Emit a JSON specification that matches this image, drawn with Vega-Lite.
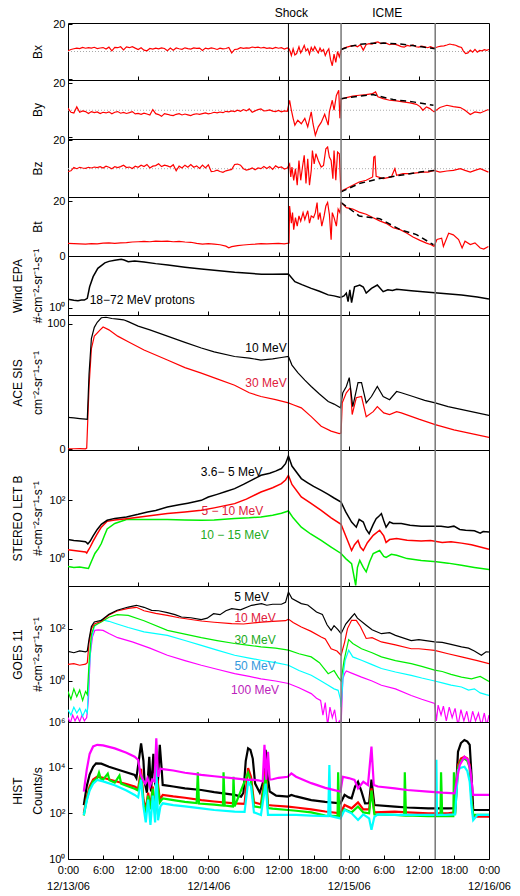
{
"$schema":"https://vega.github.io/schema/vega-lite/v6.json",
"padding":{"left":10,"top":3,"right":0,"bottom":0},
"spacing":0,
"bounds":"flush",
"resolve":{"scale":{"x":"independent","y":"independent","color":"independent"}},
"config":{
 "view":{"stroke":"#000","strokeWidth":1},
 "font":"Liberation Sans",
 "axis":{"grid":false,"domain":false,"tickSize":-4,"tickColor":"#000","labelColor":"#000","labelFontSize":11,"titleFontSize":12,"titleFontWeight":"normal","titleColor":"#000","labelFont":"Liberation Sans","titleFont":"Liberation Sans","labelFlush":false,"labelOverlap":false},
 "axisY":{"minExtent":22,"maxExtent":22,"titlePadding":2,"titleLineHeight":20,"labelPadding":7},
 "axisX":{"labelPadding":9,"labelLineHeight":16}
},
"datasets":{
"evl":[{"t":38.2,"txt":"Shock"},{"t":54.6,"txt":"ICME"}],
"ev":[{"t":37.7,"k":"Shock"},{"t":46.7,"k":"ICME"},{"t":62.8,"k":"ICME"}],
"zero":[{"v":0}],
"bx":[{"t":0,"v":0.5},{"t":0.5,"v":1.5},{"t":1,"v":2},{"t":1.5,"v":2.5},{"t":2,"v":2.2},{"t":2.5,"v":3},{"t":3,"v":2.4},{"t":3.5,"v":2.8},{"t":4,"v":2.5},{"t":4.5,"v":3.1},{"t":5,"v":2.2},{"t":5.5,"v":2.6},{"t":6,"v":2.9},{"t":6.5,"v":1.8},{"t":7,"v":3.2},{"t":7.5,"v":0.5},{"t":8,"v":3},{"t":8.5,"v":2.8},{"t":9,"v":3.5},{"t":9.5,"v":1.2},{"t":10,"v":3.4},{"t":10.5,"v":2.8},{"t":11,"v":3.6},{"t":11.5,"v":2.5},{"t":12,"v":1.5},{"t":12.5,"v":2.8},{"t":13,"v":1},{"t":13.5,"v":0.5},{"t":14,"v":2.2},{"t":14.5,"v":1.8},{"t":15,"v":2.5},{"t":15.5,"v":1.9},{"t":16,"v":2.6},{"t":16.5,"v":2.2},{"t":17,"v":0.6},{"t":17.5,"v":2.5},{"t":18,"v":1},{"t":18.5,"v":2.6},{"t":19,"v":2},{"t":19.5,"v":1.6},{"t":20,"v":2.7},{"t":20.5,"v":2.1},{"t":21,"v":1.8},{"t":21.5,"v":2.6},{"t":22,"v":2.3},{"t":22.5,"v":2.5},{"t":23,"v":0.8},{"t":23.5,"v":2.5},{"t":24,"v":2},{"t":24.5,"v":2.6},{"t":25,"v":2.2},{"t":25.5,"v":1.5},{"t":26,"v":2.5},{"t":26.5,"v":2},{"t":27,"v":2.2},{"t":27.5,"v":3},{"t":28,"v":-1},{"t":28.5,"v":1.5},{"t":29,"v":1.8},{"t":29.5,"v":2.8},{"t":30,"v":2.3},{"t":30.5,"v":2.6},{"t":31,"v":2.5},{"t":31.5,"v":3.3},{"t":32,"v":2.8},{"t":32.5,"v":3.2},{"t":33,"v":2.6},{"t":33.5,"v":3},{"t":34,"v":2.3},{"t":34.5,"v":2.7},{"t":35,"v":2.2},{"t":35.5,"v":3},{"t":36,"v":2.4},{"t":36.5,"v":2.8},{"t":37,"v":1.8},{"t":37.5,"v":2.6},{"t":37.8,"v":2},{"t":38,"v":0},{"t":38.2,"v":-3},{"t":38.5,"v":2},{"t":38.8,"v":-2.5},{"t":39.1,"v":-1.5},{"t":39.5,"v":3.5},{"t":39.8,"v":-1},{"t":40.1,"v":1.5},{"t":40.4,"v":4.5},{"t":40.7,"v":0.5},{"t":41,"v":2},{"t":41.3,"v":-2},{"t":41.6,"v":3},{"t":41.9,"v":0.5},{"t":42.2,"v":3.5},{"t":42.5,"v":1},{"t":42.8,"v":-1},{"t":43.1,"v":2.5},{"t":43.4,"v":0},{"t":43.7,"v":1.5},{"t":44,"v":-3},{"t":44.3,"v":0},{"t":44.6,"v":2},{"t":44.9,"v":-6},{"t":45.2,"v":-10.5},{"t":45.5,"v":-2},{"t":45.8,"v":-8},{"t":46.1,"v":0},{"t":46.4,"v":-4},{"t":46.7,"v":1},{"t":46.8,"v":1.5},{"t":47.2,"v":2.5},{"t":47.7,"v":3.2},{"t":48.3,"v":4},{"t":49,"v":4.5},{"t":49.5,"v":3.5},{"t":50,"v":5},{"t":50.5,"v":1},{"t":51,"v":5.2},{"t":51.5,"v":5.8},{"t":52,"v":5.5},{"t":52.5,"v":6.5},{"t":53,"v":7},{"t":53.5,"v":5.8},{"t":54,"v":6.2},{"t":54.5,"v":6},{"t":55,"v":5},{"t":55.5,"v":5.5},{"t":56,"v":5.2},{"t":56.5,"v":4.5},{"t":57,"v":3.6},{"t":57.5,"v":3.2},{"t":58,"v":4.5},{"t":58.5,"v":4},{"t":59,"v":4.8},{"t":59.5,"v":3.5},{"t":60,"v":3.2},{"t":60.5,"v":4},{"t":61,"v":3.5},{"t":61.5,"v":2.8},{"t":62,"v":3.6},{"t":62.5,"v":2.5},{"t":62.8,"v":2.8},{"t":63.3,"v":3.5},{"t":63.8,"v":4},{"t":64.3,"v":4.2},{"t":64.8,"v":4.8},{"t":65.3,"v":5.5},{"t":65.8,"v":5},{"t":66.3,"v":4.6},{"t":66.8,"v":3.6},{"t":67.3,"v":3},{"t":67.6,"v":0.5},{"t":68,"v":-1.5},{"t":68.4,"v":-1},{"t":68.8,"v":1},{"t":69.2,"v":-0.5},{"t":69.6,"v":1.5},{"t":70,"v":-0.5},{"t":70.4,"v":0.8},{"t":70.8,"v":0.5},{"t":71.2,"v":1.3},{"t":71.6,"v":0.8},{"t":72,"v":1.5}],
"bxf":[{"t":46.7,"v":1.5},{"t":48,"v":3.5},{"t":50,"v":5.3},{"t":52,"v":6},{"t":54,"v":6.2},{"t":56,"v":5.8},{"t":58,"v":5},{"t":60,"v":3.8},{"t":62,"v":2.5},{"t":62.8,"v":2}],
"by":[{"t":0,"v":1.5},{"t":0.5,"v":-1.5},{"t":1,"v":-2},{"t":1.5,"v":2.5},{"t":2,"v":-1.5},{"t":2.5,"v":-0.5},{"t":3,"v":-1},{"t":3.5,"v":-2.5},{"t":4,"v":-1},{"t":4.5,"v":-1.8},{"t":5,"v":-1.2},{"t":5.5,"v":-2.5},{"t":6,"v":-1.5},{"t":6.5,"v":-2},{"t":7,"v":-1.2},{"t":7.5,"v":-2.6},{"t":8,"v":-1.5},{"t":8.5,"v":-1},{"t":9,"v":-2.2},{"t":9.5,"v":-1.6},{"t":10,"v":-2.4},{"t":10.5,"v":-1.8},{"t":11,"v":-1},{"t":11.5,"v":-2.7},{"t":12,"v":-2.4},{"t":12.5,"v":-3},{"t":13,"v":-2.1},{"t":13.5,"v":-2.8},{"t":14,"v":-3.5},{"t":14.5,"v":0.5},{"t":15,"v":-2.5},{"t":15.5,"v":-3.2},{"t":16,"v":-4.5},{"t":16.5,"v":-2.5},{"t":17,"v":-3},{"t":17.5,"v":-3.6},{"t":18,"v":-4},{"t":18.5,"v":-3},{"t":19,"v":-2.5},{"t":19.5,"v":-3.5},{"t":20,"v":-2.8},{"t":20.5,"v":-3.4},{"t":21,"v":-4},{"t":21.5,"v":-3},{"t":22,"v":-2.6},{"t":22.5,"v":-3},{"t":23,"v":-2.5},{"t":23.5,"v":-2},{"t":24,"v":-2.7},{"t":24.5,"v":-2.2},{"t":25,"v":-1.5},{"t":25.5,"v":-2},{"t":26,"v":-1.3},{"t":26.5,"v":-1.8},{"t":27,"v":-0.8},{"t":27.5,"v":-1.2},{"t":28,"v":-0.5},{"t":28.5,"v":-1},{"t":29,"v":0},{"t":29.5,"v":-0.8},{"t":30,"v":0.5},{"t":30.5,"v":-0.5},{"t":31,"v":1},{"t":31.5,"v":-1.5},{"t":32,"v":-0.5},{"t":32.5,"v":0.5},{"t":33,"v":1},{"t":33.5,"v":-0.5},{"t":34,"v":-0.3},{"t":34.5,"v":0.3},{"t":35,"v":-0.6},{"t":35.5,"v":-1},{"t":36,"v":-0.2},{"t":36.5,"v":-1.2},{"t":37,"v":-0.5},{"t":37.5,"v":-0.8},{"t":37.9,"v":7.4},{"t":38.2,"v":0},{"t":38.5,"v":-6},{"t":38.8,"v":-11},{"t":39.3,"v":-7.4},{"t":39.9,"v":-10},{"t":40.5,"v":-6},{"t":41,"v":-12.3},{"t":41.6,"v":-1.2},{"t":41.9,"v":-10},{"t":42.3,"v":-18.5},{"t":42.8,"v":-12.3},{"t":43.3,"v":-9},{"t":43.9,"v":-3},{"t":44.5,"v":-11},{"t":44.7,"v":-1.2},{"t":45.2,"v":7.4},{"t":45.5,"v":0},{"t":45.9,"v":11},{"t":46.3,"v":14.8},{"t":46.5,"v":-6},{"t":46.7,"v":8.6},{"t":47,"v":8.6},{"t":47.6,"v":9.4},{"t":48.7,"v":10.4},{"t":49.8,"v":11.1},{"t":51,"v":11.6},{"t":52.1,"v":12.3},{"t":52.6,"v":13.6},{"t":53,"v":9.9},{"t":53.9,"v":8.6},{"t":55,"v":7.4},{"t":56.2,"v":6.9},{"t":57.3,"v":6.2},{"t":58.5,"v":5.4},{"t":59.6,"v":4.4},{"t":60.2,"v":2.7},{"t":60.7,"v":0},{"t":61.3,"v":2.5},{"t":61.9,"v":1.2},{"t":62.6,"v":-1.2},{"t":63.6,"v":2},{"t":64.8,"v":3.7},{"t":65.9,"v":2.7},{"t":67.1,"v":2},{"t":67.9,"v":0},{"t":68.8,"v":-3.2},{"t":69.6,"v":-1.2},{"t":70.5,"v":-2},{"t":71.9,"v":0.5}],
"byf":[{"t":46.7,"v":8.6},{"t":49.8,"v":10.4},{"t":52.1,"v":11.6},{"t":55.6,"v":7.9},{"t":59,"v":6.2},{"t":62.5,"v":3.7}],
"bz":[{"t":0,"v":-2},{"t":0.5,"v":-1.5},{"t":1,"v":0.8},{"t":1.5,"v":0},{"t":2,"v":1},{"t":2.5,"v":0.5},{"t":3,"v":0.2},{"t":3.5,"v":1},{"t":4,"v":0.5},{"t":4.5,"v":1.2},{"t":5,"v":0.8},{"t":5.5,"v":1.5},{"t":6,"v":0.5},{"t":6.5,"v":1.8},{"t":7,"v":1},{"t":7.5,"v":0},{"t":8,"v":1.5},{"t":8.5,"v":0.8},{"t":9,"v":1.5},{"t":9.5,"v":2.5},{"t":10,"v":0.8},{"t":10.5,"v":1.2},{"t":11,"v":0.2},{"t":11.5,"v":1.8},{"t":12,"v":1},{"t":12.5,"v":2.5},{"t":13,"v":1.5},{"t":13.5,"v":3},{"t":14,"v":0.5},{"t":14.5,"v":1.8},{"t":15,"v":2.2},{"t":15.5,"v":3.5},{"t":16,"v":1.5},{"t":16.5,"v":2.5},{"t":17,"v":2},{"t":17.5,"v":1.2},{"t":18,"v":2.8},{"t":18.5,"v":-1.5},{"t":19,"v":1.8},{"t":19.5,"v":0.5},{"t":20,"v":2.5},{"t":20.5,"v":1},{"t":21,"v":3},{"t":21.5,"v":1},{"t":22,"v":2},{"t":22.5,"v":0.2},{"t":23,"v":2.5},{"t":23.5,"v":0.5},{"t":24,"v":2.8},{"t":24.5,"v":-2},{"t":25,"v":-1.8},{"t":25.5,"v":-1},{"t":26,"v":-2},{"t":26.5,"v":-2.5},{"t":27,"v":-1.5},{"t":27.5,"v":-1},{"t":28,"v":-0.5},{"t":28.5,"v":3},{"t":29,"v":3.3},{"t":29.5,"v":2.5},{"t":30,"v":0},{"t":30.5,"v":-1},{"t":31,"v":-0.5},{"t":31.5,"v":0.5},{"t":32,"v":-0.8},{"t":32.5,"v":0.5},{"t":33,"v":0},{"t":33.5,"v":1.5},{"t":34,"v":0.2},{"t":34.5,"v":1.5},{"t":35,"v":-0.5},{"t":35.5,"v":2},{"t":36,"v":0.8},{"t":36.5,"v":1.2},{"t":37,"v":-0.2},{"t":37.5,"v":0.5},{"t":37.9,"v":3.4},{"t":38.1,"v":-5.8},{"t":38.3,"v":1.2},{"t":38.6,"v":-8.2},{"t":38.9,"v":0},{"t":39.2,"v":-11.7},{"t":39.5,"v":5.8},{"t":39.8,"v":-8.2},{"t":40.1,"v":1.2},{"t":40.4,"v":9.4},{"t":40.7,"v":-10.5},{"t":41,"v":7},{"t":41.3,"v":-11.7},{"t":41.6,"v":-1.2},{"t":41.8,"v":12.9},{"t":42.1,"v":3.4},{"t":42.4,"v":10.6},{"t":42.8,"v":5.8},{"t":43.3,"v":1.2},{"t":43.7,"v":2.3},{"t":44.1,"v":14.1},{"t":44.4,"v":15.3},{"t":44.7,"v":8.2},{"t":45,"v":5.8},{"t":45.3,"v":-7},{"t":45.5,"v":12.9},{"t":45.8,"v":-8.2},{"t":46.1,"v":11.8},{"t":46.4,"v":10.6},{"t":46.6,"v":-9.4},{"t":46.7,"v":-16.4},{"t":47,"v":-15.2},{"t":47.6,"v":-14},{"t":48.7,"v":-11.7},{"t":49.8,"v":-9.4},{"t":51,"v":-8.2},{"t":52.1,"v":-5.8},{"t":52.3,"v":8.2},{"t":52.5,"v":8.7},{"t":52.7,"v":-5.3},{"t":53.9,"v":-7},{"t":55.3,"v":-5.8},{"t":55.9,"v":0},{"t":56.2,"v":-4.7},{"t":57.3,"v":-3.5},{"t":58.5,"v":-3.5},{"t":59.6,"v":-3},{"t":60.7,"v":-2.4},{"t":61.6,"v":-2.4},{"t":62.6,"v":-1.2},{"t":63.6,"v":-2.4},{"t":64.8,"v":-1.6},{"t":65.9,"v":-1.2},{"t":67.1,"v":0},{"t":67.9,"v":-1.2},{"t":68.8,"v":-2.4},{"t":69.6,"v":-1.2},{"t":70.5,"v":0},{"t":71.9,"v":-2.4}],
"bzf":[{"t":46.7,"v":-16.4},{"t":49.8,"v":-10.5},{"t":53.3,"v":-7},{"t":56.8,"v":-4.7},{"t":60.2,"v":-2.4},{"t":62.6,"v":-1.2}],
"bt":[{"t":0,"v":4.6},{"t":1,"v":4.5},{"t":2,"v":4.4},{"t":3,"v":4.3},{"t":4,"v":4.5},{"t":5,"v":4.4},{"t":6,"v":4.7},{"t":7,"v":4.8},{"t":8,"v":4.6},{"t":9,"v":4.8},{"t":10,"v":4.9},{"t":11,"v":5.1},{"t":12,"v":5.2},{"t":13,"v":5.3},{"t":14,"v":5.2},{"t":15,"v":5.4},{"t":16,"v":5.3},{"t":17,"v":5.4},{"t":18,"v":5.2},{"t":19,"v":5.3},{"t":20,"v":5.1},{"t":21,"v":5},{"t":22,"v":4.6},{"t":23,"v":4.3},{"t":24,"v":4.5},{"t":25,"v":4.3},{"t":26,"v":4.1},{"t":27,"v":3.6},{"t":27.5,"v":3},{"t":28,"v":3.4},{"t":28.5,"v":3.6},{"t":29,"v":3.8},{"t":30,"v":4},{"t":31,"v":4.2},{"t":32,"v":4.3},{"t":33,"v":4.5},{"t":34,"v":4.4},{"t":35,"v":4.5},{"t":36,"v":4.6},{"t":37,"v":4.4},{"t":37.8,"v":4.7},{"t":37.9,"v":18.2},{"t":38.2,"v":12},{"t":38.4,"v":15.8},{"t":38.6,"v":9.6},{"t":38.9,"v":14},{"t":39.2,"v":10.9},{"t":39.5,"v":14.6},{"t":39.8,"v":12.7},{"t":40.2,"v":15.8},{"t":40.5,"v":13.3},{"t":41,"v":16.5},{"t":41.3,"v":12},{"t":41.6,"v":14.6},{"t":42,"v":14},{"t":42.3,"v":15.8},{"t":42.6,"v":19.5},{"t":42.8,"v":13.3},{"t":43.1,"v":15.8},{"t":43.4,"v":10.9},{"t":43.8,"v":14.6},{"t":44.1,"v":18.2},{"t":44.4,"v":19.5},{"t":44.7,"v":15.2},{"t":45,"v":5.9},{"t":45.2,"v":15.8},{"t":45.5,"v":14},{"t":45.9,"v":10.9},{"t":46.2,"v":17.1},{"t":46.5,"v":15.8},{"t":46.7,"v":19.5},{"t":47,"v":18.9},{"t":47.6,"v":17.6},{"t":48.7,"v":17.1},{"t":49.8,"v":16},{"t":51,"v":15.2},{"t":52.1,"v":14},{"t":53.3,"v":12.8},{"t":54.4,"v":11.9},{"t":55.6,"v":10.3},{"t":56.8,"v":9.6},{"t":57.9,"v":8.4},{"t":59,"v":6.9},{"t":60.2,"v":5.7},{"t":61.3,"v":4.7},{"t":62.1,"v":4.1},{"t":62.6,"v":3.5},{"t":63.1,"v":6},{"t":63.9,"v":6.5},{"t":64.2,"v":3.5},{"t":65.1,"v":8.3},{"t":65.9,"v":7.7},{"t":66.8,"v":6},{"t":67.4,"v":2.9},{"t":67.9,"v":5.4},{"t":68.8,"v":4.2},{"t":69.6,"v":4.8},{"t":70.5,"v":2.9},{"t":71.1,"v":2.5},{"t":71.9,"v":3.5}],
"btf":[{"t":46.7,"v":19.5},{"t":49.8,"v":14.6},{"t":53.3,"v":13.6},{"t":56.8,"v":9.6},{"t":59.6,"v":7.8},{"t":62.5,"v":4.1}],
"epa":[{"t":0,"v":1.91},{"t":0.5,"v":1.85},{"t":1,"v":1.78},{"t":1.7,"v":1.72},{"t":2.3,"v":1.8},{"t":2.8,"v":1.81},{"t":3.3,"v":2.07},{"t":3.7,"v":5.1},{"t":4.3,"v":11.2},{"t":5.1,"v":21.5},{"t":6.3,"v":33},{"t":7,"v":37},{"t":8,"v":40.6},{"t":9.1,"v":43.3},{"t":9.6,"v":41},{"t":10.3,"v":36},{"t":11.4,"v":38},{"t":13,"v":35},{"t":15,"v":31},{"t":17.1,"v":27.9},{"t":20,"v":23.5},{"t":22.8,"v":20.4},{"t":25,"v":18.5},{"t":28.5,"v":15.8},{"t":31,"v":14.5},{"t":33.1,"v":13.5},{"t":35,"v":13.6},{"t":37.7,"v":13.8},{"t":38.8,"v":7.6},{"t":40,"v":6},{"t":41.6,"v":4.5},{"t":43,"v":3.6},{"t":44.5,"v":2.7},{"t":45.5,"v":2.5},{"t":46.6,"v":2.2},{"t":47.2,"v":2.5},{"t":47.6,"v":3.1},{"t":47.9,"v":1.6},{"t":48.2,"v":4},{"t":48.5,"v":1.47},{"t":49,"v":5.1},{"t":49.9,"v":5.85},{"t":50.5,"v":5},{"t":51,"v":3.1},{"t":51.9,"v":4.5},{"t":52.9,"v":5.85},{"t":53.9,"v":3.47},{"t":54.7,"v":4},{"t":55.5,"v":3.8},{"t":56.2,"v":4.2},{"t":58.7,"v":3.75},{"t":62.7,"v":3.2},{"t":67.3,"v":2.7},{"t":70,"v":2.3},{"t":72,"v":1.95}],
"epal":[{"t":3.7,"v":1.8,"txt":"18−72 MeV protons"}],
"ace":[{"s":"30","t":0,"v":0.5},{"s":"30","t":1,"v":0.5},{"s":"30","t":2,"v":0.6},{"s":"30","t":3,"v":0.4},{"s":"30","t":3.2,"v":1},{"s":"30","t":3.6,"v":50},{"s":"30","t":4,"v":80},{"s":"30","t":4.5,"v":90},{"s":"30","t":5.5,"v":95},{"s":"30","t":6,"v":97.3},{"s":"30","t":7,"v":95},{"s":"30","t":8.5,"v":90},{"s":"30","t":10.3,"v":85.6},{"s":"30","t":13,"v":79},{"s":"30","t":17,"v":71},{"s":"30","t":20,"v":65},{"s":"30","t":22.8,"v":60.6},{"s":"30","t":25.5,"v":56},{"s":"30","t":28.5,"v":51},{"s":"30","t":31,"v":45},{"s":"30","t":33,"v":42},{"s":"30","t":35.5,"v":39.5},{"s":"30","t":37.7,"v":37},{"s":"30","t":38.5,"v":35.5},{"s":"30","t":39.9,"v":33},{"s":"30","t":41.6,"v":26},{"s":"30","t":43.3,"v":18.4},{"s":"30","t":45,"v":14.5},{"s":"30","t":46.4,"v":12.6},{"s":"30","t":46.7,"v":13},{"s":"30","t":46.9,"v":37},{"s":"30","t":47.6,"v":45},{"s":"30","t":48.3,"v":49},{"s":"30","t":48.6,"v":27.7},{"s":"30","t":49.3,"v":41},{"s":"30","t":50.2,"v":42},{"s":"30","t":51,"v":26},{"s":"30","t":52.2,"v":30},{"s":"30","t":52.9,"v":34},{"s":"30","t":54,"v":29},{"s":"30","t":55,"v":27.7},{"s":"30","t":56.2,"v":30},{"s":"30","t":57,"v":29},{"s":"30","t":60,"v":24},{"s":"30","t":62.8,"v":19.7},{"s":"30","t":66,"v":15.5},{"s":"30","t":69,"v":12.5},{"s":"30","t":72,"v":9.5},
{"s":"10","t":0,"v":25.5},{"s":"10","t":1,"v":25},{"s":"10","t":2,"v":24.5},{"s":"10","t":3,"v":24},{"s":"10","t":3.3,"v":23.8},{"s":"10","t":3.6,"v":60},{"s":"10","t":4,"v":88},{"s":"10","t":4.5,"v":97},{"s":"10","t":5,"v":101},{"s":"10","t":5.7,"v":104.6},{"s":"10","t":6.5,"v":105},{"s":"10","t":7.5,"v":104},{"s":"10","t":8.5,"v":103.5},{"s":"10","t":9.5,"v":103},{"s":"10","t":10.3,"v":101.5},{"s":"10","t":12,"v":98},{"s":"10","t":14,"v":95},{"s":"10","t":17,"v":90},{"s":"10","t":20,"v":85},{"s":"10","t":22.8,"v":80.6},{"s":"10","t":25,"v":77.5},{"s":"10","t":28.5,"v":73.8},{"s":"10","t":31,"v":72.5},{"s":"10","t":33,"v":71},{"s":"10","t":35,"v":72},{"s":"10","t":36.5,"v":73},{"s":"10","t":37.7,"v":73.8},{"s":"10","t":38.3,"v":67},{"s":"10","t":39.3,"v":61},{"s":"10","t":40.5,"v":55},{"s":"10","t":41.6,"v":50},{"s":"10","t":43,"v":44},{"s":"10","t":44.5,"v":38},{"s":"10","t":45.5,"v":36},{"s":"10","t":46.6,"v":33},{"s":"10","t":47,"v":45},{"s":"10","t":47.6,"v":50},{"s":"10","t":48.1,"v":57},{"s":"10","t":48.7,"v":34},{"s":"10","t":49.6,"v":53},{"s":"10","t":50.2,"v":53},{"s":"10","t":51,"v":37},{"s":"10","t":51.9,"v":42},{"s":"10","t":52.9,"v":50},{"s":"10","t":53.9,"v":42},{"s":"10","t":55,"v":39.5},{"s":"10","t":56.2,"v":46},{"s":"10","t":57,"v":45},{"s":"10","t":59,"v":42},{"s":"10","t":61,"v":39},{"s":"10","t":62.8,"v":37},{"s":"10","t":65,"v":34},{"s":"10","t":67,"v":32},{"s":"10","t":69,"v":30},{"s":"10","t":72,"v":27}],
"acel":[{"t":37.4,"v":80.3,"s":"10","txt":"10 MeV"},{"t":37.4,"v":52.5,"s":"30","txt":"30 MeV"}],
"let":[{"s":"c","t":0,"v":0.54},{"s":"c","t":1,"v":0.5},{"s":"c","t":2,"v":0.52},{"s":"c","t":3,"v":0.48},{"s":"c","t":3.5,"v":0.46},{"s":"c","t":4,"v":0.8},{"s":"c","t":4.6,"v":1.5},{"s":"c","t":5.2,"v":2.2},{"s":"c","t":5.7,"v":3.3},{"s":"c","t":6.2,"v":6},{"s":"c","t":6.7,"v":10.4},{"s":"c","t":8,"v":16},{"s":"c","t":10,"v":21.8},{"s":"c","t":13,"v":22},{"s":"c","t":17,"v":21.8},{"s":"c","t":20,"v":21},{"s":"c","t":22.8,"v":20.6},{"s":"c","t":25,"v":21},{"s":"c","t":28.5,"v":24},{"s":"c","t":31,"v":25},{"s":"c","t":33,"v":27},{"s":"c","t":35,"v":31},{"s":"c","t":36.5,"v":36},{"s":"c","t":37.7,"v":43},{"s":"c","t":38.5,"v":25},{"s":"c","t":39.9,"v":12},{"s":"c","t":41.5,"v":7},{"s":"c","t":43.3,"v":4.2},{"s":"c","t":45,"v":2.5},{"s":"c","t":46.7,"v":1.5},{"s":"c","t":47.5,"v":1},{"s":"c","t":48.5,"v":0.67},{"s":"c","t":49.2,"v":0.12},{"s":"c","t":49.5,"v":0.5},{"s":"c","t":49.9,"v":0.87},{"s":"c","t":50.5,"v":0.5},{"s":"c","t":51,"v":0.35},{"s":"c","t":51.6,"v":0.8},{"s":"c","t":52.2,"v":1.5},{"s":"c","t":53.3,"v":1.9},{"s":"c","t":54,"v":1.2},{"s":"c","t":54.4,"v":1.1},{"s":"c","t":55.3,"v":1.4},{"s":"c","t":56.2,"v":1.3},{"s":"c","t":58,"v":1},{"s":"c","t":60.4,"v":0.87},{"s":"c","t":63,"v":0.78},{"s":"c","t":65,"v":0.7},{"s":"c","t":67.3,"v":0.59},{"s":"c","t":69.5,"v":0.5},{"s":"c","t":72,"v":0.42},
{"s":"b","t":0,"v":2},{"s":"b","t":1,"v":1.9},{"s":"b","t":2,"v":1.8},{"s":"b","t":3,"v":1.7},{"s":"b","t":3.2,"v":1.56},{"s":"b","t":3.8,"v":2.5},{"s":"b","t":4.3,"v":4},{"s":"b","t":5,"v":7},{"s":"b","t":5.7,"v":12},{"s":"b","t":6.7,"v":19},{"s":"b","t":8,"v":21},{"s":"b","t":10,"v":23.5},{"s":"b","t":13,"v":28},{"s":"b","t":17,"v":35},{"s":"b","t":20,"v":40},{"s":"b","t":22.8,"v":45.5},{"s":"b","t":25,"v":55},{"s":"b","t":28.5,"v":77},{"s":"b","t":30.5,"v":110},{"s":"b","t":33,"v":192},{"s":"b","t":35,"v":270},{"s":"b","t":36.5,"v":375},{"s":"b","t":37.2,"v":500},{"s":"b","t":37.7,"v":720},{"s":"b","t":38.3,"v":350},{"s":"b","t":39.9,"v":130},{"s":"b","t":41.5,"v":80},{"s":"b","t":43.3,"v":45},{"s":"b","t":45,"v":25},{"s":"b","t":46.7,"v":15},{"s":"b","t":47.5,"v":6},{"s":"b","t":48.5,"v":1.9},{"s":"b","t":49,"v":3},{"s":"b","t":49.6,"v":4.2},{"s":"b","t":50,"v":2.5},{"s":"b","t":50.5,"v":1.9},{"s":"b","t":51.2,"v":3.5},{"s":"b","t":52.2,"v":6.3},{"s":"b","t":53.3,"v":9.4},{"s":"b","t":54,"v":6},{"s":"b","t":54.4,"v":3.6},{"s":"b","t":55,"v":4.5},{"s":"b","t":56.2,"v":4.9},{"s":"b","t":58,"v":4.3},{"s":"b","t":60.4,"v":4},{"s":"b","t":62,"v":4.2},{"s":"b","t":64,"v":3.6},{"s":"b","t":65.5,"v":3.8},{"s":"b","t":67.3,"v":3.4},{"s":"b","t":69,"v":3},{"s":"b","t":70.5,"v":2.5},{"s":"b","t":72,"v":2.1},
{"s":"a","t":0,"v":4.5},{"s":"a","t":1,"v":4.2},{"s":"a","t":2,"v":4},{"s":"a","t":3,"v":3.8},{"s":"a","t":3.4,"v":3.2},{"s":"a","t":3.8,"v":4},{"s":"a","t":4.3,"v":6},{"s":"a","t":5,"v":10},{"s":"a","t":5.7,"v":15},{"s":"a","t":6.7,"v":20.6},{"s":"a","t":8,"v":24},{"s":"a","t":10,"v":26.8},{"s":"a","t":12,"v":33},{"s":"a","t":13.6,"v":40},{"s":"a","t":15,"v":45},{"s":"a","t":17,"v":59},{"s":"a","t":19,"v":70},{"s":"a","t":20.5,"v":80},{"s":"a","t":22.8,"v":100},{"s":"a","t":24,"v":130},{"s":"a","t":25.5,"v":160},{"s":"a","t":27,"v":200},{"s":"a","t":28.5,"v":251},{"s":"a","t":30,"v":350},{"s":"a","t":31.5,"v":500},{"s":"a","t":33,"v":720},{"s":"a","t":34.5,"v":850},{"s":"a","t":35.5,"v":1000},{"s":"a","t":36.5,"v":1230},{"s":"a","t":37.2,"v":1800},{"s":"a","t":37.7,"v":3300},{"s":"a","t":38.3,"v":1500},{"s":"a","t":39.9,"v":557},{"s":"a","t":41,"v":400},{"s":"a","t":42,"v":300},{"s":"a","t":43.3,"v":220},{"s":"a","t":44.5,"v":160},{"s":"a","t":45.5,"v":120},{"s":"a","t":46.7,"v":87},{"s":"a","t":47.5,"v":40},{"s":"a","t":48.5,"v":18},{"s":"a","t":49.3,"v":12},{"s":"a","t":49.8,"v":22},{"s":"a","t":50.5,"v":18},{"s":"a","t":51,"v":10},{"s":"a","t":51.5,"v":7.2},{"s":"a","t":52.2,"v":15},{"s":"a","t":52.7,"v":23.5},{"s":"a","t":53.3,"v":30},{"s":"a","t":53.6,"v":35},{"s":"a","t":54,"v":20},{"s":"a","t":54.4,"v":12},{"s":"a","t":55,"v":18},{"s":"a","t":55.6,"v":16},{"s":"a","t":57,"v":15.9},{"s":"a","t":58.5,"v":14},{"s":"a","t":60.4,"v":12.8},{"s":"a","t":62,"v":13},{"s":"a","t":63.8,"v":12.8},{"s":"a","t":65,"v":12},{"s":"a","t":66,"v":13},{"s":"a","t":67,"v":10},{"s":"a","t":68,"v":9.4},{"s":"a","t":69.5,"v":9},{"s":"a","t":70.5,"v":7.5},{"s":"a","t":71,"v":8.5},{"s":"a","t":72,"v":8.2}],
"letl":[{"t":28,"v":912,"s":"a","txt":"3.6− 5 MeV"},{"t":28.1,"v":42,"s":"b","txt":"5 − 10 MeV"},{"t":28.5,"v":6.3,"s":"c","txt":"10 − 15 MeV"}],
"goes":[{"s":"100","t":0,"v":0.04},{"s":"100","t":0.4,"v":0.025},{"s":"100","t":0.8,"v":0.05},{"s":"100","t":1.2,"v":0.03},{"s":"100","t":1.6,"v":0.045},{"s":"100","t":2,"v":0.028},{"s":"100","t":2.4,"v":0.05},{"s":"100","t":2.8,"v":0.03},{"s":"100","t":3.2,"v":0.04},{"s":"100","t":3.5,"v":0.2},{"s":"100","t":3.8,"v":10},{"s":"100","t":4.2,"v":50},{"s":"100","t":4.6,"v":86},{"s":"100","t":5.2,"v":90},{"s":"100","t":6,"v":85},{"s":"100","t":7,"v":65},{"s":"100","t":8.5,"v":45},{"s":"100","t":11,"v":31},{"s":"100","t":14,"v":18},{"s":"100","t":17,"v":9.6},{"s":"100","t":20,"v":6},{"s":"100","t":22.8,"v":4},{"s":"100","t":25.5,"v":2.8},{"s":"100","t":28.5,"v":1.9},{"s":"100","t":31,"v":1.5},{"s":"100","t":33,"v":1.2},{"s":"100","t":35.5,"v":1},{"s":"100","t":37.7,"v":0.8},{"s":"100","t":39.5,"v":0.55},{"s":"100","t":41.6,"v":0.33},{"s":"100","t":42.5,"v":0.22},{"s":"100","t":43.2,"v":0.18},{"s":"100","t":43.6,"v":0.05},{"s":"100","t":44,"v":0.15},{"s":"100","t":44.4,"v":0.02},{"s":"100","t":44.8,"v":0.1},{"s":"100","t":45.2,"v":0.04},{"s":"100","t":45.6,"v":0.08},{"s":"100","t":46,"v":0.02},{"s":"100","t":46.4,"v":0.03},{"s":"100","t":46.7,"v":0.02},{"s":"100","t":47,"v":1.2},{"s":"100","t":47.3,"v":1.9},{"s":"100","t":47.6,"v":2.4},{"s":"100","t":48.5,"v":2},{"s":"100","t":50.2,"v":1.4},{"s":"100","t":52,"v":1},{"s":"100","t":53.6,"v":0.69},{"s":"100","t":56,"v":0.5},{"s":"100","t":58.7,"v":0.28},{"s":"100","t":60.5,"v":0.2},{"s":"100","t":62.7,"v":0.14},{"s":"100","t":63,"v":0.03},{"s":"100","t":63.3,"v":0.12},{"s":"100","t":63.8,"v":0.05},{"s":"100","t":64.2,"v":0.11},{"s":"100","t":64.7,"v":0.03},{"s":"100","t":65.2,"v":0.1},{"s":"100","t":65.7,"v":0.04},{"s":"100","t":66.2,"v":0.09},{"s":"100","t":66.7,"v":0.02},{"s":"100","t":67.2,"v":0.08},{"s":"100","t":67.7,"v":0.03},{"s":"100","t":68.2,"v":0.07},{"s":"100","t":68.7,"v":0.02},{"s":"100","t":69.2,"v":0.07},{"s":"100","t":69.7,"v":0.03},{"s":"100","t":70.2,"v":0.06},{"s":"100","t":70.7,"v":0.02},{"s":"100","t":71.2,"v":0.06},{"s":"100","t":71.6,"v":0.02},{"s":"100","t":72,"v":0.05},
{"s":"50","t":0,"v":0.08},{"s":"50","t":0.5,"v":0.05},{"s":"50","t":1,"v":0.1},{"s":"50","t":1.5,"v":0.06},{"s":"50","t":2,"v":0.09},{"s":"50","t":2.5,"v":0.045},{"s":"50","t":3,"v":0.08},{"s":"50","t":3.3,"v":0.06},{"s":"50","t":3.6,"v":2},{"s":"50","t":4,"v":40},{"s":"50","t":4.5,"v":120},{"s":"50","t":5.7,"v":220},{"s":"50","t":7,"v":190},{"s":"50","t":8.4,"v":150},{"s":"50","t":10.3,"v":110},{"s":"50","t":13,"v":75},{"s":"50","t":17,"v":55},{"s":"50","t":20,"v":35},{"s":"50","t":22.8,"v":23},{"s":"50","t":25.5,"v":15},{"s":"50","t":28.5,"v":9.6},{"s":"50","t":31,"v":7.5},{"s":"50","t":33,"v":6.2},{"s":"50","t":35.5,"v":5},{"s":"50","t":37.7,"v":4},{"s":"50","t":39.5,"v":2.5},{"s":"50","t":41.6,"v":1.65},{"s":"50","t":43,"v":1.1},{"s":"50","t":44.5,"v":0.69},{"s":"50","t":45.5,"v":0.5},{"s":"50","t":46.2,"v":0.44},{"s":"50","t":46.6,"v":0.2},{"s":"50","t":46.7,"v":0.1},{"s":"50","t":47.1,"v":2},{"s":"50","t":47.4,"v":6.2},{"s":"50","t":48,"v":15},{"s":"50","t":48.7,"v":8.3},{"s":"50","t":50.2,"v":6.2},{"s":"50","t":52,"v":4.2},{"s":"50","t":53.6,"v":3},{"s":"50","t":56,"v":2.2},{"s":"50","t":58.7,"v":1.65},{"s":"50","t":60.5,"v":1.3},{"s":"50","t":62.7,"v":1},{"s":"50","t":64,"v":0.85},{"s":"50","t":65.5,"v":0.7},{"s":"50","t":67.3,"v":0.59},{"s":"50","t":68.5,"v":0.45},{"s":"50","t":69.5,"v":0.5},{"s":"50","t":70.5,"v":0.35},{"s":"50","t":71.5,"v":0.3},{"s":"50","t":72,"v":0.28},
{"s":"30","t":0,"v":0.4},{"s":"30","t":0.5,"v":0.2},{"s":"30","t":1,"v":0.5},{"s":"30","t":1.5,"v":0.25},{"s":"30","t":2,"v":0.45},{"s":"30","t":2.5,"v":0.18},{"s":"30","t":3,"v":0.4},{"s":"30","t":3.3,"v":0.3},{"s":"30","t":3.6,"v":5},{"s":"30","t":4,"v":60},{"s":"30","t":4.5,"v":130},{"s":"30","t":5.7,"v":178},{"s":"30","t":7,"v":270},{"s":"30","t":8.4,"v":340},{"s":"30","t":10.3,"v":320},{"s":"30","t":13,"v":200},{"s":"30","t":17,"v":86},{"s":"30","t":20,"v":62},{"s":"30","t":22.8,"v":45},{"s":"30","t":25.5,"v":35},{"s":"30","t":28.5,"v":27},{"s":"30","t":31,"v":23},{"s":"30","t":33,"v":20},{"s":"30","t":35.5,"v":18},{"s":"30","t":37.7,"v":15},{"s":"30","t":39.5,"v":11},{"s":"30","t":41.6,"v":8.3},{"s":"30","t":43,"v":5},{"s":"30","t":44.5,"v":1.9},{"s":"30","t":45.5,"v":2.5},{"s":"30","t":46.2,"v":1.4},{"s":"30","t":46.7,"v":1},{"s":"30","t":47.2,"v":6},{"s":"30","t":47.6,"v":15},{"s":"30","t":48,"v":38},{"s":"30","t":48.7,"v":27},{"s":"30","t":50.2,"v":17},{"s":"30","t":52,"v":12},{"s":"30","t":53.6,"v":8.3},{"s":"30","t":56,"v":6},{"s":"30","t":58.7,"v":4.6},{"s":"30","t":60.5,"v":3.6},{"s":"30","t":62.7,"v":2.6},{"s":"30","t":64,"v":2.3},{"s":"30","t":65.5,"v":1.8},{"s":"30","t":67.3,"v":1.4},{"s":"30","t":69,"v":1.2},{"s":"30","t":70.5,"v":1.5},{"s":"30","t":72,"v":0.96},
{"s":"10","t":0,"v":4.3},{"s":"10","t":1,"v":4.6},{"s":"10","t":2,"v":4},{"s":"10","t":3,"v":4.4},{"s":"10","t":3.3,"v":5},{"s":"10","t":3.6,"v":30},{"s":"10","t":4,"v":100},{"s":"10","t":4.5,"v":150},{"s":"10","t":5.7,"v":190},{"s":"10","t":7,"v":330},{"s":"10","t":8.4,"v":470},{"s":"10","t":10.3,"v":590},{"s":"10","t":11.7,"v":650},{"s":"10","t":13,"v":480},{"s":"10","t":15,"v":380},{"s":"10","t":17,"v":320},{"s":"10","t":19,"v":260},{"s":"10","t":22.8,"v":195},{"s":"10","t":25,"v":175},{"s":"10","t":28,"v":155},{"s":"10","t":30,"v":150},{"s":"10","t":33.1,"v":178},{"s":"10","t":35,"v":190},{"s":"10","t":37.2,"v":200},{"s":"10","t":37.7,"v":230},{"s":"10","t":38.5,"v":170},{"s":"10","t":39.9,"v":115},{"s":"10","t":41.5,"v":80},{"s":"10","t":43.3,"v":48},{"s":"10","t":44,"v":40},{"s":"10","t":45,"v":17},{"s":"10","t":46,"v":14},{"s":"10","t":46.7,"v":9.6},{"s":"10","t":47.3,"v":30},{"s":"10","t":47.8,"v":100},{"s":"10","t":48.5,"v":207},{"s":"10","t":49.3,"v":207},{"s":"10","t":50,"v":120},{"s":"10","t":51,"v":42},{"s":"10","t":52,"v":45},{"s":"10","t":53.6,"v":31},{"s":"10","t":56,"v":24},{"s":"10","t":58.7,"v":17},{"s":"10","t":60,"v":17},{"s":"10","t":62.7,"v":14.8},{"s":"10","t":65,"v":11},{"s":"10","t":67.3,"v":8.3},{"s":"10","t":70,"v":6},{"s":"10","t":72,"v":4.6},
{"s":"5","t":0,"v":13.6},{"s":"5","t":1,"v":12},{"s":"5","t":2,"v":14},{"s":"5","t":3,"v":13},{"s":"5","t":3.3,"v":14},{"s":"5","t":3.6,"v":40},{"s":"5","t":4,"v":120},{"s":"5","t":4.5,"v":180},{"s":"5","t":5.7,"v":207},{"s":"5","t":7,"v":350},{"s":"5","t":8.4,"v":500},{"s":"5","t":10.3,"v":665},{"s":"5","t":11.7,"v":776},{"s":"5","t":13,"v":650},{"s":"5","t":14.3,"v":500},{"s":"5","t":15.5,"v":480},{"s":"5","t":17,"v":410},{"s":"5","t":18.3,"v":340},{"s":"5","t":19.4,"v":277},{"s":"5","t":21,"v":260},{"s":"5","t":22.8,"v":220},{"s":"5","t":23.8,"v":250},{"s":"5","t":24.9,"v":370},{"s":"5","t":26,"v":340},{"s":"5","t":27,"v":480},{"s":"5","t":28,"v":580},{"s":"5","t":29.5,"v":520},{"s":"5","t":31.4,"v":776},{"s":"5","t":33.1,"v":900},{"s":"5","t":34,"v":780},{"s":"5","t":35,"v":850},{"s":"5","t":36.5,"v":850},{"s":"5","t":37.2,"v":1000},{"s":"5","t":37.7,"v":2500},{"s":"5","t":38.3,"v":1400},{"s":"5","t":39.9,"v":900},{"s":"5","t":41,"v":800},{"s":"5","t":42.5,"v":430},{"s":"5","t":43.5,"v":350},{"s":"5","t":44.3,"v":140},{"s":"5","t":45,"v":86},{"s":"5","t":45.5,"v":130},{"s":"5","t":46.2,"v":90},{"s":"5","t":46.7,"v":64},{"s":"5","t":47.5,"v":150},{"s":"5","t":48.5,"v":277},{"s":"5","t":49,"v":370},{"s":"5","t":49.5,"v":250},{"s":"5","t":51,"v":134},{"s":"5","t":52,"v":90},{"s":"5","t":53.6,"v":64},{"s":"5","t":55,"v":70},{"s":"5","t":56,"v":55},{"s":"5","t":58.7,"v":35},{"s":"5","t":60,"v":38},{"s":"5","t":62.7,"v":31},{"s":"5","t":64,"v":30},{"s":"5","t":65.5,"v":25},{"s":"5","t":67.3,"v":20},{"s":"5","t":68.5,"v":18},{"s":"5","t":69.5,"v":14},{"s":"5","t":70.7,"v":9.6},{"s":"5","t":71.5,"v":13},{"s":"5","t":72,"v":12.8}],
"goesl":[{"t":31.4,"v":1567,"s":"5","txt":"5 MeV"},{"t":32,"v":247,"s":"10","txt":"10 MeV"},{"t":32,"v":35.7,"s":"30","txt":"30 MeV"},{"t":32,"v":3.6,"s":"50","txt":"50 MeV"},{"t":32,"v":0.44,"s":"100","txt":"100 MeV"}],
"hist":[{"s":"k","t":2.7,"v":230},{"s":"k","t":3.2,"v":1500},{"s":"k","t":3.7,"v":5000},{"s":"k","t":4.3,"v":11000},{"s":"k","t":4.8,"v":15500},{"s":"k","t":5.7,"v":15000},{"s":"k","t":7,"v":11000},{"s":"k","t":9,"v":7500},{"s":"k","t":11.4,"v":4800},{"s":"k","t":11.7,"v":3500},{"s":"k","t":12.1,"v":20000},{"s":"k","t":12.5,"v":117000},{"s":"k","t":12.9,"v":20000},{"s":"k","t":13.1,"v":2400},{"s":"k","t":13.5,"v":800},{"s":"k","t":13.9,"v":30000},{"s":"k","t":14.2,"v":900},{"s":"k","t":14.6,"v":40000},{"s":"k","t":14.9,"v":2000},{"s":"k","t":15.3,"v":1000},{"s":"k","t":15.7,"v":100000},{"s":"k","t":16,"v":10000},{"s":"k","t":16.2,"v":1750},{"s":"k","t":18,"v":1500},{"s":"k","t":20,"v":1250},{"s":"k","t":22.8,"v":1050},{"s":"k","t":25,"v":850},{"s":"k","t":28.5,"v":640},{"s":"k","t":29.6,"v":540},{"s":"k","t":30,"v":800},{"s":"k","t":30.4,"v":20000},{"s":"k","t":30.8,"v":70000},{"s":"k","t":31.2,"v":60000},{"s":"k","t":31.6,"v":25000},{"s":"k","t":32,"v":2000},{"s":"k","t":32.8,"v":800},{"s":"k","t":33.5,"v":3000},{"s":"k","t":33.8,"v":60000},{"s":"k","t":34.1,"v":5000},{"s":"k","t":34.5,"v":900},{"s":"k","t":35.6,"v":600},{"s":"k","t":37.6,"v":540},{"s":"k","t":38.2,"v":640},{"s":"k","t":39,"v":550},{"s":"k","t":41.6,"v":380},{"s":"k","t":44,"v":320},{"s":"k","t":46.6,"v":275},{"s":"k","t":47.3,"v":640},{"s":"k","t":48,"v":500},{"s":"k","t":48.5,"v":455},{"s":"k","t":49.1,"v":1500},{"s":"k","t":49.6,"v":2400},{"s":"k","t":50.2,"v":890},{"s":"k","t":50.8,"v":275},{"s":"k","t":51.5,"v":280},{"s":"k","t":51.9,"v":3000},{"s":"k","t":52.4,"v":230},{"s":"k","t":55.9,"v":195},{"s":"k","t":58,"v":180},{"s":"k","t":61.6,"v":165},{"s":"k","t":65,"v":165},{"s":"k","t":66.2,"v":170},{"s":"k","t":66.7,"v":50000},{"s":"k","t":67.2,"v":120000},{"s":"k","t":67.8,"v":163000},{"s":"k","t":68.3,"v":140000},{"s":"k","t":68.7,"v":100000},{"s":"k","t":69,"v":5000},{"s":"k","t":69.3,"v":140},{"s":"k","t":72,"v":140},
{"s":"r","t":2.7,"v":100},{"s":"r","t":3.2,"v":500},{"s":"r","t":3.7,"v":1500},{"s":"r","t":4.3,"v":3000},{"s":"r","t":5,"v":4000},{"s":"r","t":6,"v":3600},{"s":"r","t":8,"v":2600},{"s":"r","t":10,"v":1900},{"s":"r","t":11.4,"v":1480},{"s":"r","t":12,"v":1200},{"s":"r","t":12.5,"v":9000},{"s":"r","t":12.9,"v":400},{"s":"r","t":13.3,"v":150},{"s":"r","t":13.7,"v":800},{"s":"r","t":14.1,"v":200},{"s":"r","t":14.5,"v":1500},{"s":"r","t":14.9,"v":120},{"s":"r","t":15.3,"v":3000},{"s":"r","t":15.7,"v":400},{"s":"r","t":16.2,"v":640},{"s":"r","t":18,"v":550},{"s":"r","t":20,"v":480},{"s":"r","t":22.8,"v":380},{"s":"r","t":25,"v":330},{"s":"r","t":28.5,"v":275},{"s":"r","t":30.2,"v":260},{"s":"r","t":30.8,"v":9500},{"s":"r","t":31.3,"v":4000},{"s":"r","t":31.8,"v":300},{"s":"r","t":33,"v":250},{"s":"r","t":33.8,"v":8000},{"s":"r","t":34.2,"v":230},{"s":"r","t":35,"v":220},{"s":"r","t":37.6,"v":195},{"s":"r","t":39,"v":180},{"s":"r","t":41.6,"v":150},{"s":"r","t":44,"v":120},{"s":"r","t":46.6,"v":100},{"s":"r","t":47.3,"v":230},{"s":"r","t":48.5,"v":165},{"s":"r","t":49.6,"v":300},{"s":"r","t":50.5,"v":150},{"s":"r","t":51.5,"v":150},{"s":"r","t":51.9,"v":1250},{"s":"r","t":52.4,"v":110},{"s":"r","t":55.9,"v":118},{"s":"r","t":58,"v":110},{"s":"r","t":61.6,"v":100},{"s":"r","t":65,"v":100},{"s":"r","t":66.2,"v":110},{"s":"r","t":66.7,"v":13000},{"s":"r","t":67.2,"v":25000},{"s":"r","t":67.8,"v":30000},{"s":"r","t":68.3,"v":25000},{"s":"r","t":68.7,"v":13000},{"s":"r","t":69,"v":500},{"s":"r","t":69.3,"v":71},{"s":"r","t":72,"v":71},
{"s":"g","t":2.7,"v":80},{"s":"g","t":3.2,"v":400},{"s":"g","t":3.7,"v":1200},{"s":"g","t":4.3,"v":2500},{"s":"g","t":5,"v":3500},{"s":"g","t":5.3,"v":6000},{"s":"g","t":5.6,"v":3300},{"s":"g","t":6,"v":3000},{"s":"g","t":6.8,"v":5500},{"s":"g","t":7.1,"v":2800},{"s":"g","t":8,"v":2200},{"s":"g","t":8.8,"v":4500},{"s":"g","t":9.1,"v":2000},{"s":"g","t":10,"v":1600},{"s":"g","t":11.4,"v":1200},{"s":"g","t":12,"v":1000},{"s":"g","t":12.5,"v":5000},{"s":"g","t":12.9,"v":300},{"s":"g","t":13.3,"v":100},{"s":"g","t":13.7,"v":600},{"s":"g","t":14.1,"v":150},{"s":"g","t":14.5,"v":1200},{"s":"g","t":14.9,"v":90},{"s":"g","t":15.3,"v":2000},{"s":"g","t":15.7,"v":300},{"s":"g","t":16.2,"v":450},{"s":"g","t":18,"v":380},{"s":"g","t":20,"v":320},{"s":"g","t":22,"v":280},{"s":"g","t":22.2,"v":6300},{"s":"g","t":22.4,"v":270},{"s":"g","t":25,"v":240},{"s":"g","t":26.5,"v":220},{"s":"g","t":26.6,"v":6300},{"s":"g","t":26.8,"v":220},{"s":"g","t":28.2,"v":200},{"s":"g","t":28.3,"v":4000},{"s":"g","t":28.5,"v":200},{"s":"g","t":30.8,"v":6000},{"s":"g","t":31.3,"v":2500},{"s":"g","t":31.8,"v":200},{"s":"g","t":33,"v":180},{"s":"g","t":33.8,"v":5000},{"s":"g","t":34.2,"v":170},{"s":"g","t":35,"v":160},{"s":"g","t":37.6,"v":140},{"s":"g","t":39,"v":130},{"s":"g","t":41.6,"v":110},{"s":"g","t":44,"v":80},{"s":"g","t":46.1,"v":75},{"s":"g","t":46.2,"v":6300},{"s":"g","t":46.4,"v":75},{"s":"g","t":47.3,"v":150},{"s":"g","t":48.5,"v":110},{"s":"g","t":49.6,"v":200},{"s":"g","t":50.5,"v":110},{"s":"g","t":51.5,"v":100},{"s":"g","t":51.9,"v":1000},{"s":"g","t":52.4,"v":90},{"s":"g","t":55.9,"v":85},{"s":"g","t":57.5,"v":80},{"s":"g","t":57.6,"v":6300},{"s":"g","t":57.8,"v":80},{"s":"g","t":61.6,"v":75},{"s":"g","t":63.7,"v":75},{"s":"g","t":63.8,"v":6300},{"s":"g","t":64,"v":75},{"s":"g","t":65.9,"v":75},{"s":"g","t":66,"v":6300},{"s":"g","t":66.2,"v":90},{"s":"g","t":66.7,"v":10000},{"s":"g","t":67.2,"v":20000},{"s":"g","t":67.8,"v":25000},{"s":"g","t":68.3,"v":20000},{"s":"g","t":68.7,"v":10000},{"s":"g","t":69,"v":400},{"s":"g","t":69.3,"v":85},{"s":"g","t":72,"v":85},
{"s":"c","t":2.7,"v":85},{"s":"c","t":3.2,"v":350},{"s":"c","t":3.7,"v":1000},{"s":"c","t":4.3,"v":2000},{"s":"c","t":5,"v":2900},{"s":"c","t":6,"v":2500},{"s":"c","t":8,"v":1700},{"s":"c","t":10,"v":1000},{"s":"c","t":11.4,"v":640},{"s":"c","t":12,"v":500},{"s":"c","t":12.5,"v":3000},{"s":"c","t":12.9,"v":200},{"s":"c","t":13.3,"v":40},{"s":"c","t":13.7,"v":400},{"s":"c","t":14.1,"v":31},{"s":"c","t":14.5,"v":600},{"s":"c","t":14.9,"v":40},{"s":"c","t":15.1,"v":13000},{"s":"c","t":15.4,"v":50},{"s":"c","t":15.8,"v":200},{"s":"c","t":16.2,"v":275},{"s":"c","t":18,"v":230},{"s":"c","t":20,"v":200},{"s":"c","t":22.8,"v":165},{"s":"c","t":25,"v":140},{"s":"c","t":28.5,"v":118},{"s":"c","t":30.2,"v":115},{"s":"c","t":30.8,"v":2400},{"s":"c","t":31.3,"v":1500},{"s":"c","t":31.8,"v":110},{"s":"c","t":33,"v":85},{"s":"c","t":33.8,"v":2000},{"s":"c","t":34.2,"v":85},{"s":"c","t":35,"v":85},{"s":"c","t":37.6,"v":85},{"s":"c","t":39,"v":85},{"s":"c","t":41.6,"v":80},{"s":"c","t":44.5,"v":75},{"s":"c","t":44.7,"v":13000},{"s":"c","t":44.9,"v":75},{"s":"c","t":46.6,"v":60},{"s":"c","t":47.3,"v":140},{"s":"c","t":48.5,"v":100},{"s":"c","t":49.6,"v":51},{"s":"c","t":50.5,"v":90},{"s":"c","t":51.5,"v":60},{"s":"c","t":51.9,"v":19},{"s":"c","t":52.4,"v":70},{"s":"c","t":53,"v":90},{"s":"c","t":55.9,"v":85},{"s":"c","t":58,"v":85},{"s":"c","t":61.6,"v":85},{"s":"c","t":62.9,"v":85},{"s":"c","t":63,"v":22000},{"s":"c","t":63.1,"v":85},{"s":"c","t":64.5,"v":85},{"s":"c","t":66.2,"v":90},{"s":"c","t":66.7,"v":7900},{"s":"c","t":67.2,"v":10000},{"s":"c","t":67.8,"v":11000},{"s":"c","t":68.3,"v":7000},{"s":"c","t":68.7,"v":2400},{"s":"c","t":69,"v":200},{"s":"c","t":69.3,"v":51},{"s":"c","t":70,"v":85},{"s":"c","t":72,"v":85},
{"s":"m","t":2.7,"v":900},{"s":"m","t":3.2,"v":8000},{"s":"m","t":3.7,"v":40000},{"s":"m","t":4.3,"v":85000},{"s":"m","t":5,"v":100000},{"s":"m","t":6,"v":95000},{"s":"m","t":8,"v":70000},{"s":"m","t":10,"v":45000},{"s":"m","t":11.4,"v":30000},{"s":"m","t":12,"v":22000},{"s":"m","t":12.4,"v":5000},{"s":"m","t":12.8,"v":3000},{"s":"m","t":13.2,"v":2000},{"s":"m","t":13.6,"v":3500},{"s":"m","t":14,"v":1500},{"s":"m","t":14.4,"v":3000},{"s":"m","t":14.8,"v":2500},{"s":"m","t":15.1,"v":195000},{"s":"m","t":15.4,"v":4000},{"s":"m","t":15.8,"v":9000},{"s":"m","t":16.2,"v":8700},{"s":"m","t":18,"v":7500},{"s":"m","t":20,"v":6000},{"s":"m","t":22.8,"v":4800},{"s":"m","t":25,"v":4200},{"s":"m","t":28.5,"v":3400},{"s":"m","t":30.8,"v":2900},{"s":"m","t":31.5,"v":3000},{"s":"m","t":32.5,"v":2800},{"s":"m","t":33.3,"v":2500},{"s":"m","t":33.6,"v":100000},{"s":"m","t":33.9,"v":3000},{"s":"m","t":34.2,"v":50000},{"s":"m","t":34.5,"v":3000},{"s":"m","t":35,"v":3100},{"s":"m","t":36,"v":3600},{"s":"m","t":37.6,"v":4000},{"s":"m","t":38.2,"v":5600},{"s":"m","t":39,"v":4000},{"s":"m","t":41.6,"v":2100},{"s":"m","t":44,"v":1300},{"s":"m","t":46.6,"v":890},{"s":"m","t":47,"v":4000},{"s":"m","t":48,"v":3500},{"s":"m","t":49,"v":2900},{"s":"m","t":49.6,"v":1250},{"s":"m","t":50.5,"v":2400},{"s":"m","t":51.3,"v":1750},{"s":"m","t":51.9,"v":83000},{"s":"m","t":52.3,"v":1750},{"s":"m","t":53,"v":1500},{"s":"m","t":55.9,"v":1250},{"s":"m","t":58,"v":1050},{"s":"m","t":61.6,"v":890},{"s":"m","t":64,"v":800},{"s":"m","t":66.1,"v":750},{"s":"m","t":66.6,"v":4000},{"s":"m","t":67,"v":13000},{"s":"m","t":67.8,"v":30000},{"s":"m","t":68.4,"v":22000},{"s":"m","t":68.8,"v":8000},{"s":"m","t":69.3,"v":640},{"s":"m","t":70,"v":640},{"s":"m","t":72,"v":640}]
},
"vconcat":[
{"width":421,"height":20,"view":{"stroke":null},"data":{"name":"evl"},"mark":{"type":"text","fontSize":12,"color":"#000"},
 "encoding":{"x":{"field":"t","type":"quantitative","scale":{"domain":[0,72],"nice":false,"zero":false},"axis":null},"text":{"field":"txt"}}},
{"width":421,"height":57,
 "layer":[
  {"data":{"name":"zero"},"mark":{"type":"rule","color":"#aaaaaa","strokeDash":[1,2]},"encoding":{"y":{"field":"v","type":"quantitative","scale":{"domain":[-21,21],"nice":false,"zero":false},"axis":{"values":[-20,0,20],"labelExpr":"datum.value==-20?'':datum.label","title":"Bx"}}}},
  {"data":{"name":"bx"},"mark":{"type":"line","color":"#ff0000","strokeWidth":1.2,"clip":true},"encoding":{"x":{"field":"t","type":"quantitative","scale":{"domain":[0,72],"nice":false,"zero":false},"axis":{"values":[0,12,24,36,48,60,72],"labels":false,"title":null}},"y":{"field":"v","type":"quantitative"}}},
  {"data":{"name":"bxf"},"mark":{"type":"line","color":"#000","strokeDash":[6,4],"strokeWidth":1.5},"encoding":{"x":{"field":"t","type":"quantitative"},"y":{"field":"v","type":"quantitative"}}},
  {"data":{"name":"ev"},"transform":[{"filter":"datum.k=='Shock'"}],"mark":{"type":"rule","color":"#000","strokeWidth":1},"encoding":{"x":{"field":"t","type":"quantitative"}}},
  {"data":{"name":"ev"},"transform":[{"filter":"datum.k=='ICME'"}],"mark":{"type":"rule","color":"#777","strokeWidth":1.5},"encoding":{"x":{"field":"t","type":"quantitative"}}}
 ]},
{"width":421,"height":59,
 "layer":[
  {"data":{"name":"zero"},"mark":{"type":"rule","color":"#aaaaaa","strokeDash":[1,2]},"encoding":{"y":{"field":"v","type":"quantitative","scale":{"domain":[-21.3,22.4],"nice":false,"zero":false},"axis":{"values":[-20,0,20],"labelExpr":"datum.value==-20?'':datum.label","title":"By"}}}},
  {"data":{"name":"by"},"mark":{"type":"line","color":"#ff0000","strokeWidth":1.2,"clip":true},"encoding":{"x":{"field":"t","type":"quantitative","scale":{"domain":[0,72],"nice":false,"zero":false},"axis":{"values":[0,12,24,36,48,60,72],"labels":false,"title":null}},"y":{"field":"v","type":"quantitative"}}},
  {"data":{"name":"byf"},"mark":{"type":"line","color":"#000","strokeDash":[6,4],"strokeWidth":1.5},"encoding":{"x":{"field":"t","type":"quantitative"},"y":{"field":"v","type":"quantitative"}}},
  {"data":{"name":"ev"},"transform":[{"filter":"datum.k=='Shock'"}],"mark":{"type":"rule","color":"#000","strokeWidth":1},"encoding":{"x":{"field":"t","type":"quantitative"}}},
  {"data":{"name":"ev"},"transform":[{"filter":"datum.k=='ICME'"}],"mark":{"type":"rule","color":"#777","strokeWidth":1.5},"encoding":{"x":{"field":"t","type":"quantitative"}}}
 ]},
{"width":421,"height":58,
 "layer":[
  {"data":{"name":"zero"},"mark":{"type":"rule","color":"#aaaaaa","strokeDash":[1,2]},"encoding":{"y":{"field":"v","type":"quantitative","scale":{"domain":[-20,21],"nice":false,"zero":false},"axis":{"values":[-20,0,20],"labelExpr":"datum.value==-20?'':datum.label","title":"Bz"}}}},
  {"data":{"name":"bz"},"mark":{"type":"line","color":"#ff0000","strokeWidth":1.2,"clip":true},"encoding":{"x":{"field":"t","type":"quantitative","scale":{"domain":[0,72],"nice":false,"zero":false},"axis":{"values":[0,12,24,36,48,60,72],"labels":false,"title":null}},"y":{"field":"v","type":"quantitative"}}},
  {"data":{"name":"bzf"},"mark":{"type":"line","color":"#000","strokeDash":[6,4],"strokeWidth":1.5},"encoding":{"x":{"field":"t","type":"quantitative"},"y":{"field":"v","type":"quantitative"}}},
  {"data":{"name":"ev"},"transform":[{"filter":"datum.k=='Shock'"}],"mark":{"type":"rule","color":"#000","strokeWidth":1},"encoding":{"x":{"field":"t","type":"quantitative"}}},
  {"data":{"name":"ev"},"transform":[{"filter":"datum.k=='ICME'"}],"mark":{"type":"rule","color":"#777","strokeWidth":1.5},"encoding":{"x":{"field":"t","type":"quantitative"}}}
 ]},
{"width":421,"height":59,
 "layer":[
  {"data":{"name":"bt"},"mark":{"type":"line","color":"#ff0000","strokeWidth":1.2,"clip":true},"encoding":{"x":{"field":"t","type":"quantitative","scale":{"domain":[0,72],"nice":false,"zero":false},"axis":{"values":[0,12,24,36,48,60,72],"labels":false,"title":null}},"y":{"field":"v","type":"quantitative","scale":{"domain":[0,21.5],"nice":false,"zero":false},"axis":{"values":[0,10,20],"title":"Bt"}}}},
  {"data":{"name":"btf"},"mark":{"type":"line","color":"#000","strokeDash":[6,4],"strokeWidth":1.5},"encoding":{"x":{"field":"t","type":"quantitative"},"y":{"field":"v","type":"quantitative"}}},
  {"data":{"name":"ev"},"transform":[{"filter":"datum.k=='Shock'"}],"mark":{"type":"rule","color":"#000","strokeWidth":1},"encoding":{"x":{"field":"t","type":"quantitative"}}},
  {"data":{"name":"ev"},"transform":[{"filter":"datum.k=='ICME'"}],"mark":{"type":"rule","color":"#777","strokeWidth":1.5},"encoding":{"x":{"field":"t","type":"quantitative"}}}
 ]},
{"width":421,"height":59,
 "layer":[
  {"data":{"name":"epa"},"mark":{"type":"line","color":"#000","strokeWidth":1.5,"clip":true},"encoding":{"x":{"field":"t","type":"quantitative","scale":{"domain":[0,72],"nice":false,"zero":false},"axis":{"values":[0,12,24,36,48,60,72],"labels":false,"title":null}},"y":{"field":"v","type":"quantitative","scale":{"type":"log","domain":[0.5623,56.23],"nice":false},"axis":{"values":[1],"labelExpr":"'10⁰'","title":["Wind EPA","#-cm⁻²-sr⁻¹-s⁻¹"]}}}},
  {"data":{"name":"epal"},"mark":{"type":"text","fontSize":12,"align":"left","baseline":"middle","color":"#000"},"encoding":{"x":{"field":"t","type":"quantitative"},"y":{"field":"v","type":"quantitative"},"text":{"field":"txt"}}},
  {"data":{"name":"ev"},"transform":[{"filter":"datum.k=='Shock'"}],"mark":{"type":"rule","color":"#000","strokeWidth":1},"encoding":{"x":{"field":"t","type":"quantitative"}}},
  {"data":{"name":"ev"},"transform":[{"filter":"datum.k=='ICME'"}],"mark":{"type":"rule","color":"#777","strokeWidth":1.5},"encoding":{"x":{"field":"t","type":"quantitative"}}}
 ]},
{"width":421,"height":135,"resolve":{"scale":{"color":"independent"}},
 "layer":[
  {"data":{"name":"ace"},"mark":{"type":"line","strokeWidth":1.2,"clip":true},"encoding":{"x":{"field":"t","type":"quantitative","scale":{"domain":[0,72],"nice":false,"zero":false},"axis":{"values":[0,12,24,36,48,60,72],"labels":false,"title":null}},"y":{"field":"v","type":"quantitative","scale":{"domain":[-0.5,106.8],"nice":false,"zero":false},"axis":{"values":[0,100],"title":["ACE SIS","cm⁻²-sr⁻¹-s⁻¹"]}},"color":{"field":"s","type":"nominal","scale":{"domain":["30","10"],"range":["#ff0000","#000000"]},"legend":null}}},
  {"data":{"name":"acel"},"mark":{"type":"text","fontSize":12,"align":"right","baseline":"middle"},"encoding":{"x":{"field":"t","type":"quantitative"},"y":{"field":"v","type":"quantitative"},"text":{"field":"txt"},"color":{"field":"s","type":"nominal","scale":{"domain":["10","30"],"range":["#000000","#e0203c"]},"legend":null}}},
  {"data":{"name":"ev"},"transform":[{"filter":"datum.k=='Shock'"}],"mark":{"type":"rule","color":"#000","strokeWidth":1},"encoding":{"x":{"field":"t","type":"quantitative"}}},
  {"data":{"name":"ev"},"transform":[{"filter":"datum.k=='ICME'"}],"mark":{"type":"rule","color":"#777","strokeWidth":1.5},"encoding":{"x":{"field":"t","type":"quantitative"}}}
 ]},
{"width":421,"height":136,"resolve":{"scale":{"color":"independent"}},
 "layer":[
  {"data":{"name":"let"},"mark":{"type":"line","strokeWidth":1.5,"clip":true},"encoding":{"x":{"field":"t","type":"quantitative","scale":{"domain":[0,72],"nice":false,"zero":false},"axis":{"values":[0,12,24,36,48,60,72],"labels":false,"title":null}},"y":{"field":"v","type":"quantitative","scale":{"type":"log","domain":[0.115,5320],"nice":false},"axis":{"values":[1,100],"labelExpr":"datum.value==1?'10⁰':'10²'","title":["STEREO LET B","#-cm⁻²-sr⁻¹-s⁻¹"]}},"color":{"field":"s","type":"nominal","scale":{"domain":["c","b","a"],"range":["#00ee00","#ff0000","#000000"]},"legend":null}}},
  {"data":{"name":"letl"},"mark":{"type":"text","fontSize":12,"align":"center","baseline":"middle"},"encoding":{"x":{"field":"t","type":"quantitative"},"y":{"field":"v","type":"quantitative"},"text":{"field":"txt"},"color":{"field":"s","type":"nominal","scale":{"domain":["a","b","c"],"range":["#000000","#e0203c","#22aa22"]},"legend":null}}},
  {"data":{"name":"ev"},"transform":[{"filter":"datum.k=='Shock'"}],"mark":{"type":"rule","color":"#000","strokeWidth":1},"encoding":{"x":{"field":"t","type":"quantitative"}}},
  {"data":{"name":"ev"},"transform":[{"filter":"datum.k=='ICME'"}],"mark":{"type":"rule","color":"#777","strokeWidth":1.5},"encoding":{"x":{"field":"t","type":"quantitative"}}}
 ]},
{"width":421,"height":136,"resolve":{"scale":{"color":"independent"}},
 "layer":[
  {"data":{"name":"goes"},"mark":{"type":"line","strokeWidth":1.2,"clip":true},"encoding":{"x":{"field":"t","type":"quantitative","scale":{"domain":[0,72],"nice":false,"zero":false},"axis":{"values":[0,6,12,18,24,30,36,42,48,54,60,66,72],"labels":false,"title":null}},"y":{"field":"v","type":"quantitative","scale":{"type":"log","domain":[0.0272,4230],"nice":false},"axis":{"values":[1,100],"labelExpr":"datum.value==1?'10⁰':'10²'","title":["GOES 11","#-cm⁻²-sr⁻¹-s⁻¹"]}},"color":{"field":"s","type":"nominal","scale":{"domain":["100","50","30","10","5"],"range":["#ff00ff","#00ffff","#00ee00","#ff0000","#000000"]},"legend":null}}},
  {"data":{"name":"goesl"},"mark":{"type":"text","fontSize":12,"align":"center","baseline":"middle"},"encoding":{"x":{"field":"t","type":"quantitative"},"y":{"field":"v","type":"quantitative"},"text":{"field":"txt"},"color":{"field":"s","type":"nominal","scale":{"domain":["5","10","30","50","100"],"range":["#000000","#e0203c","#22aa22","#3399dd","#bb22bb"]},"legend":null}}},
  {"data":{"name":"ev"},"transform":[{"filter":"datum.k=='Shock'"}],"mark":{"type":"rule","color":"#000","strokeWidth":1},"encoding":{"x":{"field":"t","type":"quantitative"}}},
  {"data":{"name":"ev"},"transform":[{"filter":"datum.k=='ICME'"}],"mark":{"type":"rule","color":"#777","strokeWidth":1.5},"encoding":{"x":{"field":"t","type":"quantitative"}}}
 ]},
{"width":421,"height":137,"resolve":{"axis":{"x":"independent"}},
 "layer":[
  {"data":{"name":"hist"},"mark":{"type":"line","strokeWidth":2.2,"clip":true},"encoding":{"x":{"field":"t","type":"quantitative","scale":{"domain":[0,72],"nice":false,"zero":false},"axis":{"values":[0,6,12,18,24,30,36,42,48,54,60,66,72],"title":null,"labelOverlap":false,"labelBound":false,"labelFlush":false,"labelExpr":"datum.value%24==0 ? [(datum.value%24)+':00', '\u00a0\u00a0\u00a0\u00a0\u00a0\u00a012/'+(13+datum.value/24)+'/06'] : [(datum.value%24)+':00', '']"}},"y":{"field":"v","type":"quantitative","scale":{"type":"log","domain":[1,1000000],"nice":false},"axis":{"values":[1,100,10000,1000000],"labelExpr":"datum.value==1?'10⁰':datum.value==100?'10²':datum.value==10000?'10⁴':'10⁶'","title":["HIST","Counts/s"]}},"color":{"field":"s","type":"nominal","scale":{"domain":["k","r","g","c","m"],"range":["#000000","#ff0000","#00ee00","#00ffff","#ff00ff"]},"legend":null}}},
  {"data":{"name":"ev"},"transform":[{"filter":"datum.k=='Shock'"}],"mark":{"type":"rule","color":"#000","strokeWidth":1},"encoding":{"x":{"field":"t","type":"quantitative","axis":null}}},
  {"data":{"name":"ev"},"transform":[{"filter":"datum.k=='ICME'"}],"mark":{"type":"rule","color":"#777","strokeWidth":1.5},"encoding":{"x":{"field":"t","type":"quantitative","axis":null}}}
 ]}
]
}
